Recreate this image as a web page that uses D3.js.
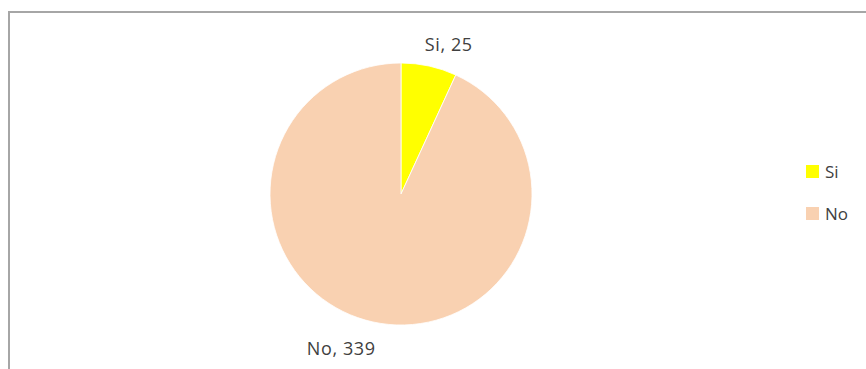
<!DOCTYPE html>
<html>
<head>
<meta charset="utf-8">
<script src="https://cdn.jsdelivr.net/npm/d3@7/dist/d3.min.js"></script>
<style>
  html, body { margin: 0; padding: 0; background: #fff; }
  svg { display: block; }
  text { font-family: "Open Sans", "Liberation Sans", sans-serif; fill: #404040; }
</style>
</head>
<body>
<svg id="chart" width="866" height="369"></svg>
<script>
// Survey answers
const categories = ["Si", "No"];
const counts = [25, 339];
const colors = ["#FFFF00", "#F9D1B1"];

const svg = d3.select("#chart");
const W = 866, H = 369;

// chart area frame (runs off the right and bottom edges)
svg.append("rect")
  .attr("x", 9).attr("y", 12)
  .attr("width", W).attr("height", H)
  .attr("fill", "#fff")
  .attr("stroke", "#a6a6a6")
  .attr("stroke-width", 2);

const cx = 401, cy = 194, r = 131;
const data = categories.map((c, i) => ({ cat: c, value: counts[i], color: colors[i] }));

const pie = d3.pie().sort(null).value(d => d.value);
const arc = d3.arc().innerRadius(0).outerRadius(r);
const arcs = pie(data);

const g = svg.append("g").attr("transform", `translate(${cx},${cy})`);
g.selectAll("path").data(arcs).join("path")
  .attr("d", arc)
  .attr("fill", d => d.data.color)
  .attr("stroke", "#fff")
  .attr("stroke-width", 0.8);

// data labels outside the slices, nudged off the centroid
const labelArc = d3.arc().innerRadius(r + 22).outerRadius(r + 22);
const nudge = { Si: [15, 6.5], No: [-27, 11.5] };
g.selectAll("text.lbl").data(arcs).join("text")
  .attr("class", "lbl")
  .attr("x", d => labelArc.centroid(d)[0] + nudge[d.data.cat][0])
  .attr("y", d => labelArc.centroid(d)[1] + nudge[d.data.cat][1])
  .attr("text-anchor", "middle")
  .attr("font-size", 18)
  .attr("letter-spacing", 0.6)
  .text(d => `${d.data.cat}, ${d.data.value}`);

// legend
const legend = svg.append("g").attr("transform", "translate(806,165)");
const item = legend.selectAll("g").data(data).join("g")
  .attr("transform", (d, i) => `translate(0,${i * 42})`);
item.append("rect")
  .attr("width", 13).attr("height", 13)
  .attr("fill", d => d.color);
item.append("text")
  .attr("x", 19).attr("y", 13)
  .attr("font-size", 17)
  .text(d => d.cat);
</script>
</body>
</html>
